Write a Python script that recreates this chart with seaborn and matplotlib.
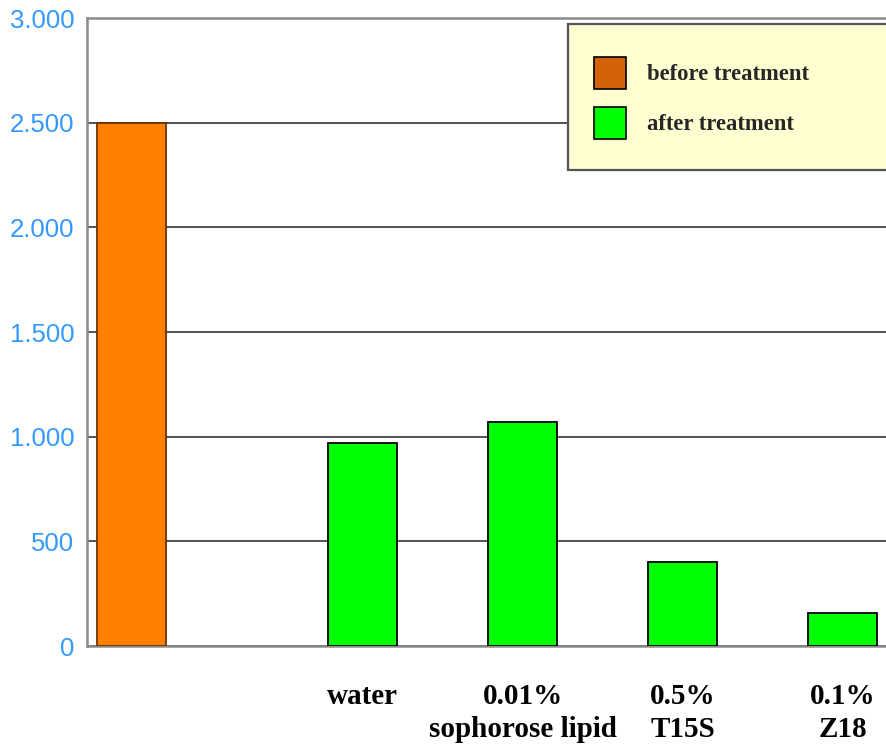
import numpy as np
import pandas as pd
import matplotlib
matplotlib.use("Agg")
import matplotlib.pyplot as plt
from matplotlib.patches import Patch, Rectangle
from matplotlib.ticker import FuncFormatter, MultipleLocator
import seaborn as sns

# Data
categories = ["", "water", "0.01%\nsophorose lipid", "0.5%\nT15S", "0.1%\nZ18"]
stages = ["before treatment", "after treatment", "after treatment",
          "after treatment", "after treatment"]
values = [2500, 970, 1070, 400, 160]

# Slot positions: the untreated bar sits a little apart from the treated ones
idx = np.arange(len(categories))
pos = idx + np.where(idx > 0, 0.44, 0.0)

df = pd.DataFrame({"pos": pos, "value": values, "stage": stages})

sns.set_theme(style="white")
fig = plt.figure(figsize=(8.86, 7.44), dpi=100)
ax = fig.add_axes([87 / 886, 1 - 646 / 744, 1 - 87 / 886, (646 - 18) / 744])

palette = {"before treatment": "#FF8000", "after treatment": "#00FF00"}
sns.barplot(data=df, x="pos", y="value", hue="stage", native_scale=True,
            dodge=False, width=0.43, palette=palette, saturation=1,
            edgecolor="black", linewidth=1.3, legend=False, ax=ax, zorder=3)
for p in ax.patches:
    if p.get_height() >= 2000:
        p.set_edgecolor("#6b3300")

ax.set_xlim(-0.28, 4.71)
ax.set_ylim(0, 3000)
ax.yaxis.set_major_locator(MultipleLocator(500))
ax.yaxis.set_major_formatter(FuncFormatter(lambda v, _: f"{int(v):,}".replace(",", ".")))
ax.set_xticks(pos, labels=categories)
ax.set_xlabel("")
ax.set_ylabel("")

ax.grid(axis="y", color="#444444", linewidth=1.3, zorder=1)
ax.grid(axis="x", visible=False)
ax.set_axisbelow(True)

for side in ["left", "bottom", "top"]:
    ax.spines[side].set_visible(True)
    ax.spines[side].set_color("#8a8a8a")
    ax.spines[side].set_linewidth(1.8)
ax.spines["right"].set_visible(False)

ax.tick_params(axis="y", length=0, pad=9, labelsize=18.5, labelcolor="#3399FF")
ax.tick_params(axis="x", length=0, pad=27, labelsize=21)
for t in ax.get_yticklabels():
    t.set_fontfamily("Liberation Sans")
for t in ax.get_xticklabels():
    t.set_fontfamily("Liberation Serif")
    t.set_fontweight("bold")
    t.set_color("black")
    t.set_linespacing(1.28)

# Legend panel
fig.patches.append(Rectangle((568 / 886, 1 - 170 / 744), 0.4, 146 / 744,
                             transform=fig.transFigure, facecolor="#FFFFD2",
                             edgecolor="#555555", linewidth=1.6, zorder=5))
handles = [Patch(facecolor="#D2620A", edgecolor="black", linewidth=1.2, label="before treatment"),
           Patch(facecolor="#00FF00", edgecolor="black", linewidth=1.2, label="after treatment")]
leg = fig.legend(handles=handles, loc="upper left",
                 bbox_to_anchor=(594 / 886, 1 - 57 / 744), bbox_transform=fig.transFigure,
                 frameon=False, borderpad=0, borderaxespad=0,
                 handlelength=1.42, handleheight=1.8, handletextpad=0.9,
                 labelspacing=0.8,
                 prop={"family": "Liberation Serif", "weight": "bold", "size": 16.3})
leg.set_zorder(6)

fig.savefig("out.png", dpi=100)
